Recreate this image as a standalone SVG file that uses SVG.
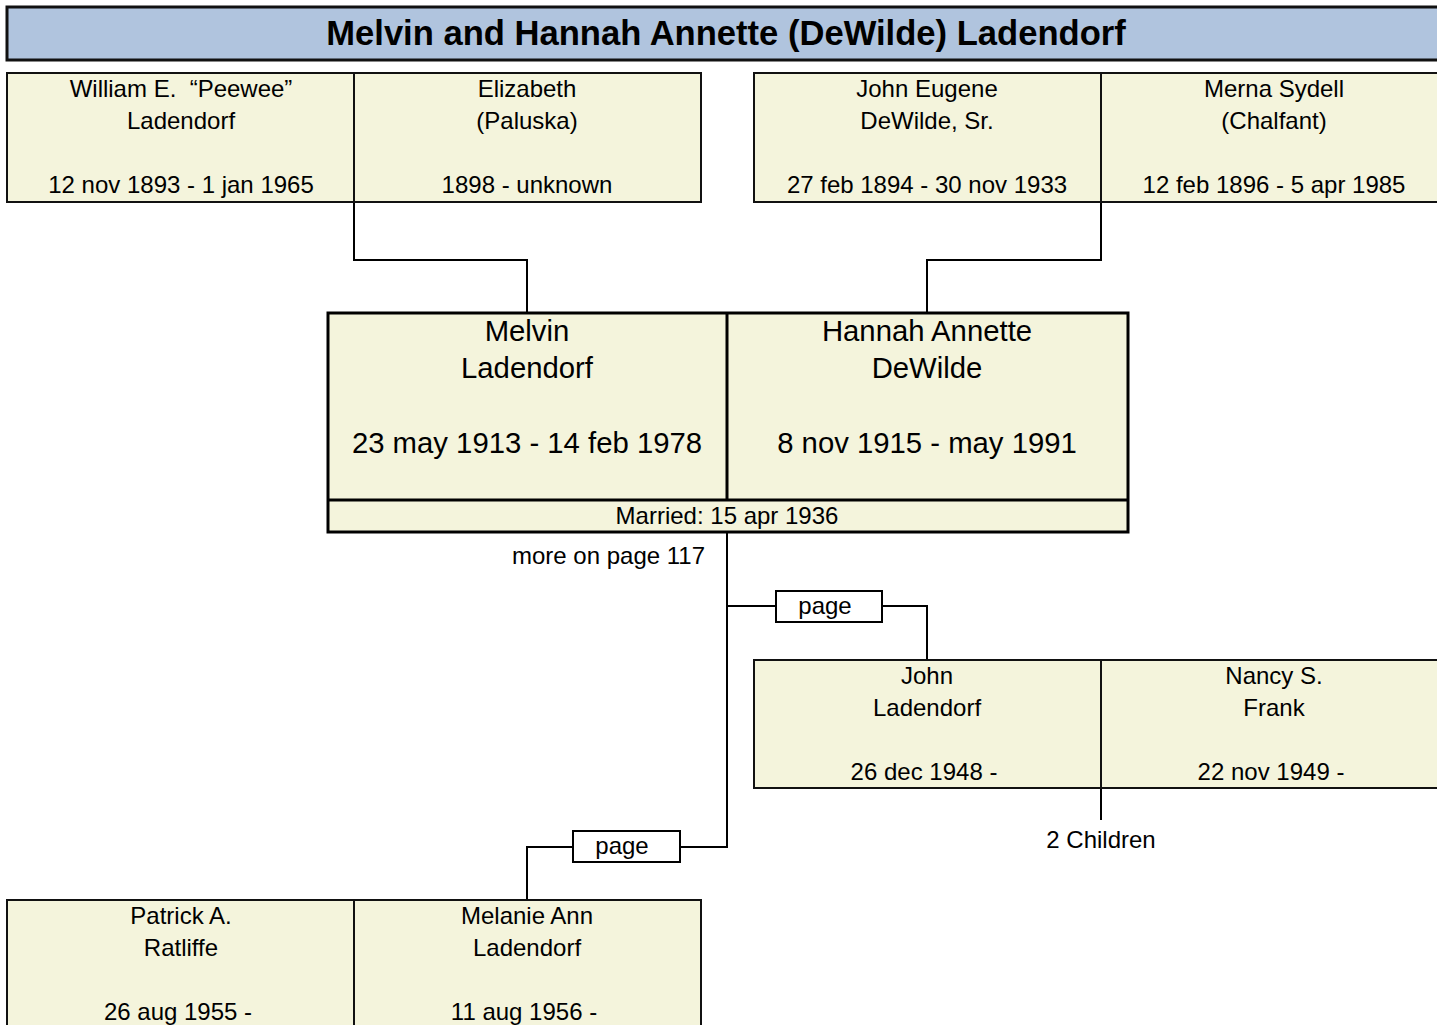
<svg xmlns="http://www.w3.org/2000/svg" width="1437" height="1025" viewBox="0 0 1437 1025">
<style>
text{font-family:"Liberation Sans",Arial,sans-serif;fill:#000;text-anchor:middle}
.box{fill:#f4f4dc;stroke:#111;stroke-width:2}
.main{fill:#f4f4dc;stroke:#000;stroke-width:3}
.t{font-size:24px}
.tb{font-size:29.3px}
.ln{fill:none;stroke:#000;stroke-width:2}
.pg{fill:#fff;stroke:#000;stroke-width:2}
</style>
<rect width="1437" height="1025" fill="#fff"/>
<g id="title">
<rect x="7" y="7" width="1440" height="53" fill="#b0c4de" stroke="#111" stroke-width="3"/>
<text x="726" y="45" style="font-size:34.6px;font-weight:bold">Melvin and Hannah Annette (DeWilde) Ladendorf</text>
</g>
<g id="connectors">
<polyline class="ln" points="354,202 354,260 527,260 527,313"/>
<polyline class="ln" points="1101,202 1101,260 927,260 927,313"/>
<polyline class="ln" points="727,532 727,847 680,847"/>
<polyline class="ln" points="727,606 776,606"/>
<polyline class="ln" points="882,606 927,606 927,660"/>
<polyline class="ln" points="573,847 527,847 527,900"/>
<line class="ln" x1="1101" y1="788" x2="1101" y2="820"/>
</g>
<g id="william">
<rect class="box" x="7" y="73" width="347" height="129"/>
<text class="t" x="181" y="97">William E.&#160; “Peewee”</text>
<text class="t" x="181" y="129">Ladendorf</text>
<text class="t" x="181" y="193">12 nov 1893 - 1 jan 1965</text>
</g>
<g id="elizabeth">
<rect class="box" x="354" y="73" width="347" height="129"/>
<text class="t" x="527" y="97">Elizabeth</text>
<text class="t" x="527" y="129">(Paluska)</text>
<text class="t" x="527" y="193">1898 - unknown</text>
</g>
<g id="john-sr">
<rect class="box" x="754" y="73" width="347" height="129"/>
<text class="t" x="927" y="97">John Eugene</text>
<text class="t" x="927" y="129">DeWilde, Sr.</text>
<text class="t" x="927" y="193">27 feb 1894 - 30 nov 1933</text>
</g>
<g id="merna">
<rect class="box" x="1101" y="73" width="347" height="129"/>
<text class="t" x="1274" y="97">Merna Sydell</text>
<text class="t" x="1274" y="129">(Chalfant)</text>
<text class="t" x="1274" y="193">12 feb 1896 - 5 apr 1985</text>
</g>
<g id="couple">
<rect class="main" x="328" y="313" width="800" height="219"/>
<line x1="727" y1="313" x2="727" y2="500" stroke="#000" stroke-width="3"/>
<line x1="328" y1="500" x2="1128" y2="500" stroke="#000" stroke-width="3"/>
<text class="tb" x="527" y="341">Melvin</text>
<text class="tb" x="527" y="378">Ladendorf</text>
<text class="tb" x="527" y="453">23 may 1913 - 14 feb 1978</text>
<text class="tb" x="927" y="341">Hannah Annette</text>
<text class="tb" x="927" y="378">DeWilde</text>
<text class="tb" x="927" y="453">8 nov 1915 - may 1991</text>
<text class="t" x="727" y="524">Married: 15 apr 1936</text>
</g>
<text class="t" x="705" y="564" style="text-anchor:end">more on page 117</text>
<g id="page1">
<rect class="pg" x="776" y="591" width="106" height="31"/>
<text class="t" x="825" y="614">page</text>
</g>
<g id="page2">
<rect class="pg" x="573" y="831" width="107" height="31"/>
<text class="t" x="622" y="854">page</text>
</g>
<g id="john">
<rect class="box" x="754" y="660" width="347" height="128"/>
<text class="t" x="927" y="684">John</text>
<text class="t" x="927" y="716">Ladendorf</text>
<text class="t" x="924" y="780">26 dec 1948 -</text>
</g>
<g id="nancy">
<rect class="box" x="1101" y="660" width="347" height="128"/>
<text class="t" x="1274" y="684">Nancy S.</text>
<text class="t" x="1274" y="716">Frank</text>
<text class="t" x="1271" y="780">22 nov 1949 -</text>
</g>
<text class="t" x="1101" y="848">2 Children</text>
<g id="patrick">
<rect class="box" x="7" y="900" width="347" height="140"/>
<text class="t" x="181" y="924">Patrick A.</text>
<text class="t" x="181" y="956">Ratliffe</text>
<text class="t" x="178" y="1020">26 aug 1955 -</text>
</g>
<g id="melanie">
<rect class="box" x="354" y="900" width="347" height="140"/>
<text class="t" x="527" y="924">Melanie Ann</text>
<text class="t" x="527" y="956">Ladendorf</text>
<text class="t" x="524" y="1020">11 aug 1956 -</text>
</g>
</svg>
